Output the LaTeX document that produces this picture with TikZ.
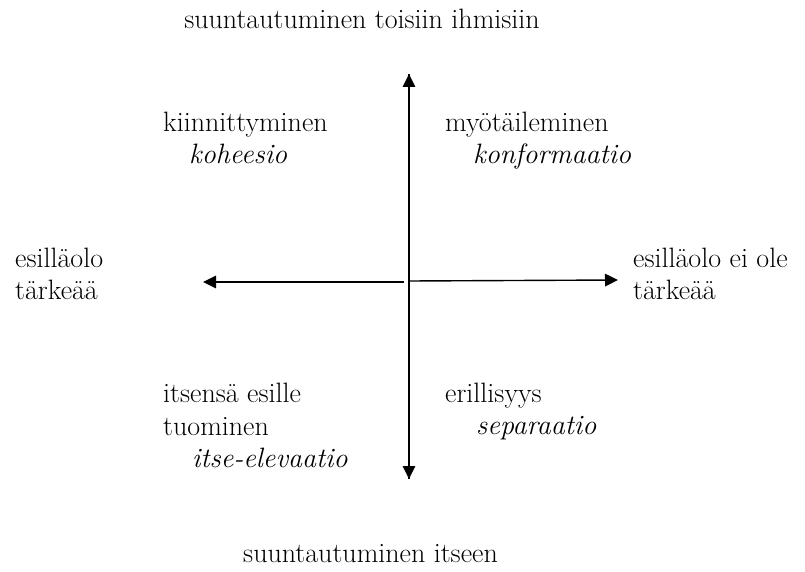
\documentclass[tikz,border=0pt]{standalone}
\usetikzlibrary{arrows.meta}
\begin{document}
\begin{tikzpicture}[x=1pt,y=-1pt,
  lbl/.style={anchor=base west,inner sep=0pt,font=\fontsize{28}{32}\selectfont},
  ttl/.style={anchor=base,inner sep=0pt,font=\fontsize{28}{32}\selectfont},
  ilbl/.style={lbl,font=\fontsize{28}{32}\selectfont\itshape},
  axis/.style={line width=1.4pt,-{Triangle[length=13pt,width=12.5pt]}}]
\useasboundingbox (0,0) rectangle (805,572);
% axis end points
\coordinate (top) at (409,74);
\coordinate (bot) at (409,479);
\coordinate (lc) at (404,282);
\coordinate (lt) at (203,282);
\coordinate (rc) at (409,281);
\coordinate (rt) at (618,280);
\draw[axis] (bot) -- (top);
\draw[axis] (top) -- (bot);
\draw[axis] (lc) -- (lt);
\draw[axis] (rc) -- (rt);
% titles
\node[ttl] (tt) at (362,29) {suuntautuminen toisiin ihmisiin};
\node[lbl] (bt) at (243,562) {suuntautuminen itseen};
% quadrants
\node[lbl] (q1a) at (163,132) {kiinnittyminen};
\node[ilbl] (q1b) at (189,164) {koheesio};
\node[lbl] (q2a) at (445,132) {myötäileminen};
\node[ilbl] (q2b) at (473,164) {konformaatio};
\node[lbl] (l1) at (15,267) {esilläolo};
\node[lbl] (l2) at (15,299) {tärkeää};
\node[lbl] (r1) at (633,267) {esilläolo ei ole};
\node[lbl] (r2) at (633,299) {tärkeää};
\node[lbl] (q3a) at (163,402) {itsensä esille};
\node[lbl] (q3b) at (163,435) {tuominen};
\node[ilbl] (q3c) at (192,467) {itse-elevaatio};
\node[lbl] (q4a) at (445,402) {erillisyys};
\node[ilbl] (q4b) at (476,434) {separaatio};
\end{tikzpicture}
\end{document}
